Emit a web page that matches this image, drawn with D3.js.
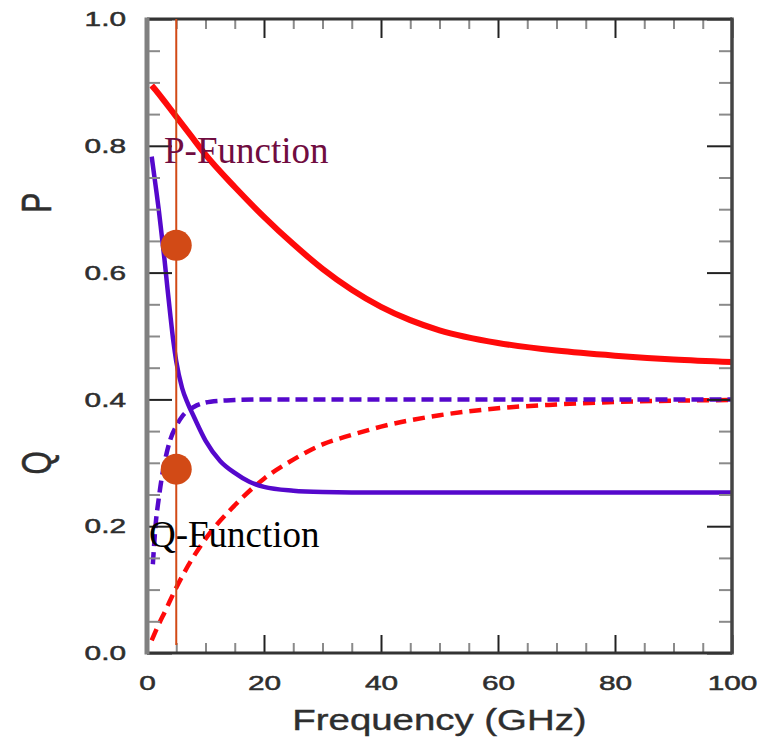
<!DOCTYPE html>
<html>
<head>
<meta charset="utf-8">
<script src="https://cdn.jsdelivr.net/npm/d3@7"></script>
<style>
  html, body { margin: 0; padding: 0; background: #fff; }
  svg { display: block; }
</style>
</head>
<body>
<svg id="chart" width="769" height="740"></svg>
<script>
// ---------------- data ----------------
const xMajorTicks = [0, 20, 40, 60, 80, 100];
const xMinorTicks = [5, 10, 15, 25, 30, 35, 45, 50, 55, 65, 70, 75, 85, 90, 95];
const yMajorTicks = [0.0, 0.2, 0.4, 0.6, 0.8, 1.0];
const yMinorTicks = [0.05, 0.1, 0.15, 0.25, 0.3, 0.35, 0.45, 0.5, 0.55, 0.65, 0.7, 0.75, 0.85, 0.9, 0.95];

// P-function (solid red)
const pSolidFreq = [0.8, 2, 3, 5, 7.5, 10, 15, 20, 25, 30, 35, 40, 45, 50, 60, 70, 80, 90, 100];
const pSolidVal  = [0.895, 0.882, 0.870, 0.846, 0.816, 0.786, 0.735, 0.688, 0.645, 0.606, 0.573, 0.546, 0.525, 0.509, 0.489, 0.477, 0.469, 0.463, 0.459];

// P-function companion (dashed red)
const pDashFreq = [0.8, 2, 3, 5, 7.5, 10, 15, 20, 25, 30, 35, 40, 50, 60, 70, 80, 90, 100];
const pDashVal  = [0.020, 0.045, 0.064, 0.103, 0.145, 0.180, 0.233, 0.275, 0.305, 0.329, 0.344, 0.357, 0.375, 0.386, 0.392, 0.396, 0.398, 0.399];

// Q-function (solid purple)
const qSolidFreq = [0.8, 1.5, 2, 2.5, 3, 3.5, 4, 4.5, 5, 6, 7, 8, 10, 12.5, 15, 17.5, 20, 25, 30, 40, 50, 60, 70, 80, 90, 100];
const qSolidVal  = [0.783, 0.735, 0.700, 0.660, 0.620, 0.575, 0.532, 0.492, 0.460, 0.418, 0.393, 0.373, 0.335, 0.303, 0.284, 0.270, 0.262, 0.256, 0.254, 0.253, 0.253, 0.253, 0.253, 0.253, 0.253, 0.253];

// Q-function companion (dashed purple)
const qDashFreq = [1, 1.5, 2, 2.5, 3, 4, 5, 6, 8, 10, 12.5, 15, 20, 30, 40, 50, 60, 70, 80, 90, 100];
const qDashVal  = [0.140, 0.205, 0.243, 0.275, 0.300, 0.337, 0.358, 0.373, 0.388, 0.395, 0.398, 0.399, 0.400, 0.400, 0.400, 0.400, 0.400, 0.400, 0.400, 0.400, 0.400];

// marker at 5 GHz
const cursorFreq = 5;
const markerFreq = [5, 5];
const markerVal  = [0.643, 0.290];

const xTitle = "Frequency (GHz)";
const yLabels = ["P", "Q"];
const seriesLabels = ["P-Function", "Q-Function"];

// ---------------- layout ----------------
const svg = d3.select("#chart");
const L = 147, R = 732, T = 19, B = 653;
const x = d3.scaleLinear().domain([0, 100]).range([L, R]);
const y = d3.scaleLinear().domain([0, 1]).range([B, T]);

const RED = "#ff0a0a";
const PURPLE = "#5508cc";
const ORANGE = "#d24a16";
const TXT = "#2e2e2e";
const STRETCH = 1.42;      // the reference's sans text is horizontally stretched

// ---------------- curves ----------------
const line = d3.line().x(d => x(d[0])).y(d => y(d[1])).curve(d3.curveMonotoneX);
const zip = (a, b) => a.map((v, i) => [v, b[i]]);

const curves = svg.append("g");
curves.append("path").datum(zip(pDashFreq, pDashVal))
  .attr("d", line).attr("fill", "none").attr("stroke", RED)
  .attr("stroke-width", 4.5).attr("stroke-dasharray", "12,7");
curves.append("path").datum(zip(qDashFreq, qDashVal))
  .attr("d", line).attr("fill", "none").attr("stroke", PURPLE)
  .attr("stroke-width", 4.5).attr("stroke-dasharray", "12,6");
curves.append("path").datum(zip(qSolidFreq, qSolidVal))
  .attr("d", line).attr("fill", "none").attr("stroke", PURPLE)
  .attr("stroke-width", 4.5);
curves.append("path").datum(zip(pSolidFreq, pSolidVal))
  .attr("d", line).attr("fill", "none").attr("stroke", RED)
  .attr("stroke-width", 6);

// ---------------- axes / frame ----------------
function styleAxis(g, major) {
  g.select(".domain").remove();
  g.selectAll(".tick line").attr("stroke", major ? "#222" : "#8a8a8a").attr("stroke-width", 2);
}
// minor ticks
svg.append("g").attr("transform", `translate(0,${B})`)
  .call(d3.axisBottom(x).tickValues(xMinorTicks).tickSizeInner(-10).tickSizeOuter(0).tickFormat(""))
  .call(g => styleAxis(g, false));
svg.append("g").attr("transform", `translate(0,${T})`)
  .call(d3.axisTop(x).tickValues(xMinorTicks).tickSizeInner(-10).tickSizeOuter(0).tickFormat(""))
  .call(g => styleAxis(g, false));
svg.append("g").attr("transform", `translate(${L},0)`)
  .call(d3.axisLeft(y).tickValues(yMinorTicks).tickSizeInner(-13).tickSizeOuter(0).tickFormat(""))
  .call(g => styleAxis(g, false));
svg.append("g").attr("transform", `translate(${R},0)`)
  .call(d3.axisRight(y).tickValues(yMinorTicks).tickSizeInner(-13).tickSizeOuter(0).tickFormat(""))
  .call(g => styleAxis(g, false));

// major ticks
const bottomAx = svg.append("g").attr("transform", `translate(0,${B})`)
  .call(d3.axisBottom(x).tickValues(xMajorTicks).tickSizeInner(-18).tickSizeOuter(0)
        .tickPadding(22).tickFormat(d3.format("d")))
  .call(g => styleAxis(g, true));
svg.append("g").attr("transform", `translate(0,${T})`)
  .call(d3.axisTop(x).tickValues(xMajorTicks).tickSizeInner(-19).tickSizeOuter(0).tickFormat(""))
  .call(g => styleAxis(g, true));
const leftAx = svg.append("g").attr("transform", `translate(${L},0)`)
  .call(d3.axisLeft(y).tickValues(yMajorTicks).tickSizeInner(-25).tickSizeOuter(0)
        .tickPadding(21).tickFormat(d3.format(".1f")))
  .call(g => styleAxis(g, true));
svg.append("g").attr("transform", `translate(${R},0)`)
  .call(d3.axisRight(y).tickValues(yMajorTicks).tickSizeInner(-25).tickSizeOuter(0).tickFormat(""))
  .call(g => styleAxis(g, true));

// tick label styling (stretched, slightly heavy sans)
function styleTickText(sel) {
  sel.attr("font-family", "Liberation Sans, Arial, sans-serif").attr("font-size", 21)
    .attr("fill", TXT).attr("stroke", TXT).attr("stroke-width", 0.5);
}
bottomAx.selectAll(".tick text").call(styleTickText)
  .attr("transform", function () {
    const yy = +d3.select(this).attr("y");
    d3.select(this).attr("y", 0);
    return `translate(0,${yy}) scale(${STRETCH},1)`;
  });
leftAx.selectAll(".tick text").call(styleTickText)
  .attr("transform", function () {
    const xx = +d3.select(this).attr("x");
    d3.select(this).attr("x", 0);
    return `translate(${xx},0) scale(${STRETCH},1)`;
  });

// frame
svg.append("line").attr("x1", L).attr("x2", R).attr("y1", T).attr("y2", T)
  .attr("stroke", "#333").attr("stroke-width", 3);
svg.append("line").attr("x1", L).attr("x2", R).attr("y1", B).attr("y2", B)
  .attr("stroke", "#333").attr("stroke-width", 3);
svg.append("line").attr("x1", R).attr("x2", R).attr("y1", T - 1.5).attr("y2", B + 1.5)
  .attr("stroke", "#444").attr("stroke-width", 3.5);
svg.append("line").attr("x1", L).attr("x2", L).attr("y1", T - 1.5).attr("y2", B + 1.5)
  .attr("stroke", "#808080").attr("stroke-width", 5);

// axis titles
svg.append("text")
  .attr("transform", `translate(${(L + R) / 2},730) scale(1.28,1)`)
  .attr("text-anchor", "middle")
  .attr("font-family", "Liberation Sans, Arial, sans-serif").attr("font-size", 30)
  .attr("fill", TXT).attr("stroke", TXT).attr("stroke-width", 0.4).text(xTitle);
const yLabelPos = [0.71, 0.30];
yLabels.forEach((t, i) => {
  svg.append("text")
    .attr("transform", `translate(51,${y(yLabelPos[i])}) scale(1.4,1) rotate(-90)`)
    .attr("text-anchor", "middle")
    .attr("font-family", "Liberation Sans, Arial, sans-serif").attr("font-size", 30)
    .attr("fill", TXT).attr("stroke", TXT).attr("stroke-width", 0.4).text(t);
});

// ---------------- cursor + markers ----------------
svg.append("line")
  .attr("x1", x(cursorFreq)).attr("x2", x(cursorFreq))
  .attr("y1", y(1)).attr("y2", y(0.0125))
  .attr("stroke", ORANGE).attr("stroke-width", 2);
svg.append("g").selectAll("circle")
  .data(zip(markerFreq, markerVal)).join("circle")
  .attr("cx", d => x(d[0])).attr("cy", d => y(d[1])).attr("r", 15.5)
  .attr("fill", ORANGE);

// ---------------- series labels ----------------
svg.append("text").attr("x", 164).attr("y", 163)
  .attr("font-family", "Liberation Serif, Times New Roman, serif").attr("font-size", 37)
  .attr("fill", "#700c40").text(seriesLabels[0]);
svg.append("text").attr("x", 149).attr("y", 547)
  .attr("font-family", "Liberation Serif, Times New Roman, serif").attr("font-size", 37)
  .attr("fill", "#000").text(seriesLabels[1]);
</script>
</body>
</html>
